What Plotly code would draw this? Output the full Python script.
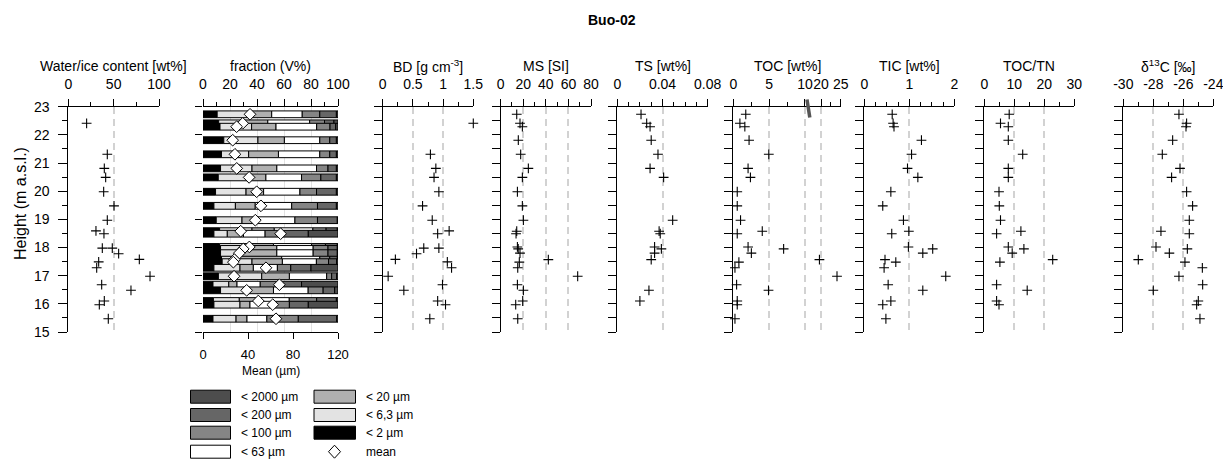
import plotly.graph_objects as go

# ---------------------------------------------------------------- data ----
# physical properties: water/ice content [wt%] and bulk density [g cm-3]
phys_height = [22.41, 21.31, 20.81, 20.49, 19.98, 19.48, 18.97, 18.59, 18.49,
               17.98, 17.98, 17.78, 17.58, 17.49, 17.28, 16.98, 16.68, 16.48,
               16.10, 15.97, 15.47]
water_content = [20.2, 43.0, 39.7, 41.2, 39.0, 50.4, 43.0, 30.5, 39.3, 37.5, 48.5,
                 55.5, 78.3, 33.5, 31.3, 90.1, 36.8, 69.1, 39.7, 34.2, 44.1]
bulk_density = [1.50, 0.79, 0.88, 0.85, 0.93, 0.66, 0.82, 1.10, 0.91, 0.68, 0.93,
                0.56, 0.21, 1.07, 1.14, 0.09, 0.99, 0.35, 0.91, 1.04, 0.78]

# grain size + geochemistry sample heights [m a.s.l.]
sample_height = [22.73, 22.41, 22.29, 21.81, 21.31, 20.81, 20.49, 19.98, 19.48,
                 18.97, 18.58, 18.49, 18.02, 17.95, 17.80, 17.57, 17.48, 17.28,
                 16.98, 16.68, 16.48, 16.10, 15.97, 15.47]

# grain-size classes [V%]
gs_lt2 = [10.5, 11.6, 12.6, 15.4, 13.7, 13.0, 11.3, 9.3, 8.1, 9.8, 12.3, 8.1,
          12.3, 13.0, 13.0, 13.7, 14.2, 8.1, 11.4, 7.4, 13.0, 7.7, 8.1, 7.4]
gs_lt6_3 = [24.5, 18.4, 23.4, 25.3, 20.1, 23.3, 22.5, 22.6, 15.9, 19.1, 24.0, 9.9,
            17.7, 22.8, 13.5, 10.3, 22.1, 19.3, 32.1, 11.7, 20.8, 19.2, 19.3, 17.1]
gs_lt20 = [15.9, 18.0, 18.1, 19.6, 22.1, 18.4, 12.8, 13.0, 14.7, 9.8, 16.5, 12.0,
           22.2, 18.9, 28.2, 34.3, 22.5, 9.9, 20.5, 6.1, 18.4, 14.1, 7.4, 8.1]
gs_lt63 = [22.6, 31.0, 30.1, 26.2, 30.6, 29.4, 26.4, 26.9, 27.0, 29.4, 28.6, 16.0,
           28.2, 26.9, 26.9, 28.2, 25.2, 17.8, 27.6, 17.2, 25.7, 22.9, 17.2, 14.7]
gs_lt100 = [13.0, 11.0, 9.9, 7.4, 7.4, 8.5, 14.3, 12.3, 19.1, 16.7, 9.8, 12.0,
            10.3, 11.0, 11.0, 7.4, 9.0, 9.9, 3.7, 12.3, 11.1, 20.3, 12.0, 23.3]
gs_lt200 = [12.3, 7.0, 4.2, 4.9, 4.9, 6.2, 11.5, 14.7, 14.0, 14.7, 8.3, 20.0,
            8.8, 6.9, 6.9, 5.6, 6.0, 15.0, 3.7, 18.3, 8.5, 14.6, 14.0, 28.4]
gs_lt2000 = [1.2, 3.0, 1.7, 1.2, 1.2, 1.2, 1.2, 1.2, 1.2, 0.5, 0.5, 22.0,
             0.5, 0.5, 0.5, 0.5, 1.0, 20.0, 1.0, 27.0, 2.5, 1.2, 22.0, 1.0]
gs_mean = [41.8, 35.3, 29.9, 26.4, 28.4, 30.0, 41.0, 47.7, 51.5, 46.5, 33.5, 69.0,
           41.2, 35.8, 32.3, 27.9, 27.0, 56.0, 27.6, 67.9, 38.8, 49.2, 62.0, 64.9]

# magnetic susceptibility [SI]
ms_values = [14.2, 17.1, 19.2, 15.6, 17.7, 24.5, 19.2, 14.8, 19.2, 20.1, 14.2, 13.6,
             14.8, 15.5, 17.1, 42.2, 16.5, 15.1, 68.2, 14.8, 20.1, 19.5, 13.3, 15.1]
# total sulphur [wt%]
ts_height = [22.73, 22.41, 22.29, 21.81, 21.31, 20.81, 20.49, 18.97, 18.58, 18.49,
             18.02, 17.95, 17.80, 17.57, 16.48, 16.10]
ts_values = [0.021, 0.026, 0.029, 0.030, 0.036, 0.029, 0.041, 0.049, 0.037, 0.038,
             0.033, 0.039, 0.033, 0.030, 0.028, 0.020]
# total organic carbon [wt%]
toc_values = [1.74, 0.92, 1.61, 2.20, 4.95, 2.06, 2.39, 0.55, 0.55, 1.01, 4.04, 0.55,
              2.06, 7.02, 2.52, 19.6, 0.78, 0.23, 24.06, 0.46, 4.91, 0.55, 0.55, 0.23]
# total inorganic carbon [wt%]
tic_values = [0.62, 0.64, 0.66, 1.27, 1.05, 0.96, 1.19, 0.59, 0.41, 0.87, 0.99, 0.61,
              0.98, 1.52, 1.30, 0.46, 0.70, 0.44, 1.81, 0.53, 1.30, 0.59, 0.41, 0.48]
# TOC/TN ratio
ctn_height = [22.73, 22.41, 22.29, 21.81, 21.31, 20.81, 20.49, 19.98, 19.48, 18.97,
              18.58, 18.49, 18.02, 17.95, 17.80, 17.57, 17.48, 16.98, 16.68, 16.48,
              16.10, 15.97]
ctn_values = [8.3, 5.4, 8.0, 8.0, 12.8, 8.0, 8.0, 4.9, 5.0, 5.4, 12.2, 4.1, 8.0,
              13.2, 9.3, 22.8, 5.2, 31.3, 4.1, 14.3, 4.1, 4.9]
# delta 13C of organic carbon [per mil]
d13c_values = [-26.29, -25.78, -25.82, -26.71, -27.40, -26.22, -26.78, -25.78, -25.38,
               -25.60, -27.49, -25.60, -27.82, -25.73, -26.93, -29.00, -25.89, -24.73,
               -26.29, -24.71, -28.00, -25.00, -25.11, -24.89]

gs_labels = ["< 2 µm", "< 6,3 µm", "< 20 µm", "< 63 µm", "< 100 µm", "< 200 µm", "< 2000 µm"]
gs_colors = ["#000000", "#e3e3e3", "#b0b0b0", "#ffffff", "#858585", "#666666", "#4d4d4d"]

# --------------------------------------------------------------- layout ----
W, H = 1223, 460
FONT = "Liberation Sans, Arial, sans-serif"


def fx(p):
    return p / W


def fy(p):
    return 1 - p / H


Y_TOP, Y_BOT = 106.7, 332.0
YDOM = [fy(Y_BOT), fy(Y_TOP)]
DASH_GRID = dict(showgrid=True, gridcolor="#d2d2d2", griddash="7px,5px", gridwidth=1.5)


def top_axis(x0, x1, rng, vals, labels, minor, anchor, grid=None):
    ax = dict(domain=[fx(x0), fx(x1)], range=rng, side="top", anchor=anchor,
              automargin=False, showline=True, linecolor="black", linewidth=1,
              ticks="outside", ticklen=7, tickwidth=1, tickcolor="black",
              tickmode="array", tickvals=vals, ticktext=labels, ticklabelstandoff=4,
              ticklabeloverflow="allow", tickangle=0,
              tickfont=dict(size=14), zeroline=False, fixedrange=True,
              minor=dict(tickmode="array", tickvals=minor, ticks="outside",
                         ticklen=4, tickcolor="black", showgrid=False))
    ax.update(grid if grid is not None else DASH_GRID)
    return ax


def height_axis(anchor, line=True, step=0.5, ticklen=8):
    n = int(round((23 - 15) / step))
    return dict(domain=YDOM, range=[15, 23], anchor=anchor, automargin=False, showline=line,
                linecolor="black", linewidth=1, ticks="outside", ticklen=ticklen,
                tickcolor="black", tickmode="array",
                tickvals=[15 + step * i for i in range(n + 1)],
                showticklabels=False, showgrid=False, zeroline=False, fixedrange=True)


fig = go.Figure()

cross = dict(symbol="cross-thin", size=7, color="black", line=dict(width=1.1, color="black"))


def add_points(x, y, xa, ya):
    fig.add_trace(go.Scatter(x=x, y=y, mode="markers", marker=cross, xaxis=xa, yaxis=ya,
                             cliponaxis=False, showlegend=False, hoverinfo="x+y"))


# water/ice content
add_points(water_content, phys_height, "x", "y")

# grain-size fractions: one stacked bar per sample
classes = [gs_lt2, gs_lt6_3, gs_lt20, gs_lt63, gs_lt100, gs_lt200, gs_lt2000]
for i, h in enumerate(sample_height):
    widths = [c[i] for c in classes]
    bases, acc = [], 0.0
    for w in widths:
        bases.append(acc)
        acc += w
    fig.add_trace(go.Bar(orientation="h", y=[h] * len(widths), x=widths, base=bases,
                         width=0.24, marker=dict(color=gs_colors, line=dict(color="black", width=1)),
                         xaxis="x2", yaxis="y2", showlegend=False, hoverinfo="skip"))
fig.add_trace(go.Scatter(x=gs_mean, y=sample_height, mode="markers", xaxis="x3", yaxis="y2",
                         marker=dict(symbol="diamond", size=9, color="white",
                                     line=dict(color="black", width=1)),
                         cliponaxis=False, showlegend=False))

add_points(bulk_density, phys_height, "x4", "y4")
add_points(ms_values, sample_height, "x5", "y5")
add_points(ts_values, ts_height, "x6", "y6")
toc_lo = [(v, h) for v, h in zip(toc_values, sample_height) if v <= 10]
toc_hi = [(v, h) for v, h in zip(toc_values, sample_height) if v > 10]
add_points([v for v, _ in toc_lo], [h for _, h in toc_lo], "x7", "y7")
add_points([v for v, _ in toc_hi], [h for _, h in toc_hi], "x8", "y7")
add_points(tic_values, sample_height, "x9", "y9")
add_points(ctn_values, ctn_height, "x10", "y10")
add_points(d13c_values, sample_height, "x11", "y11")

lay = dict(
    width=W, height=H, autosize=False, margin=dict(l=0, r=0, t=0, b=0, pad=0),
    paper_bgcolor="white", plot_bgcolor="white",
    font=dict(family=FONT, size=14, color="black"),
    barmode="overlay", showlegend=False,
)

lay["xaxis"] = top_axis(68.3, 159.0, [0, 100], [0, 50, 100], ["0", "50", "100"], [25, 75], "y")
lay["yaxis"] = dict(domain=YDOM, range=[15, 23], anchor="x", automargin=False, showline=True,
                    linecolor="black", ticks="outside", ticklen=9, tickcolor="black",
                    tickmode="array", tickvals=list(range(15, 24)), tickfont=dict(size=14),
                    ticklabelstandoff=6, showgrid=False, zeroline=False, fixedrange=True,
                    minor=dict(tickmode="array", tickvals=[15.5 + i for i in range(8)],
                               ticks="outside", ticklen=5, tickcolor="black", showgrid=False))

lay["xaxis2"] = top_axis(203.0, 338.0, [0, 100], [0, 20, 40, 60, 80, 100],
                         ["0", "20", "40", "60", "80", "100"], [10, 30, 50, 70, 90], "y2",
                         grid=dict(showgrid=True, gridcolor="#e2e2e2", gridwidth=1))
lay["yaxis2"] = height_axis("x2", line=False, step=1, ticklen=7)
lay["xaxis3"] = dict(overlaying="x2", side="bottom", anchor="y2", range=[0, 120],
                     automargin=False, showline=True, linecolor="black", ticks="outside",
                     ticklen=6, tickcolor="black", tickmode="array", tickvals=[0, 40, 80, 120],
                     tickfont=dict(size=13), ticklabelstandoff=4, tickangle=0, showgrid=False,
                     zeroline=False, fixedrange=True)

lay["xaxis4"] = top_axis(382.7, 473.3, [0, 1.5], [0, 0.5, 1, 1.5], ["0", "0.5", "1", "1.5"],
                         [0.25, 0.75, 1.25], "y4")
lay["yaxis4"] = height_axis("x4")
lay["xaxis5"] = top_axis(500.7, 591.0, [0, 80], [0, 20, 40, 60, 80],
                         ["0", "20", "40", "60", "80"], [10, 30, 50, 70], "y5")
lay["yaxis5"] = height_axis("x5")
lay["xaxis6"] = top_axis(617.3, 707.7, [0, 0.08], [0, 0.04, 0.08], ["0", "0.04", "0.08"],
                         [0.01, 0.02, 0.03, 0.05, 0.06, 0.07], "y6")
lay["yaxis6"] = height_axis("x6")
# TOC axis broken between 10 and 20 wt%
lay["xaxis7"] = top_axis(733.3, 808.0, [0, 10.42], [0, 5, 10], ["0", "5", "10"], [2.5, 7.5], "y7")
lay["xaxis8"] = top_axis(808.0, 840.7, [16.70, 25], [20, 25], ["20", "25"], [22.5], "y7")
lay["yaxis7"] = height_axis("x7")
lay["xaxis9"] = top_axis(864.3, 954.3, [0, 2], [0, 1, 2], ["0", "1", "2"],
                         [0.25, 0.5, 0.75, 1.25, 1.5, 1.75], "y9")
lay["yaxis9"] = height_axis("x9")
lay["xaxis10"] = top_axis(984.3, 1074.3, [0, 30], [0, 10, 20, 30], ["0", "10", "20", "30"],
                          [5, 15, 25], "y10")
lay["yaxis10"] = height_axis("x10")
lay["xaxis11"] = top_axis(1123.3, 1213.3, [-30, -24], [-30, -28, -26, -24],
                          ["-30", "-28", "-26", "-24"], [-29, -27, -25], "y11")
lay["yaxis11"] = height_axis("x11")

fig.update_layout(**lay)

# titles
ann = []


def text(x, y, s, size=14, anchor="center", **kw):
    ann.append(dict(x=fx(x), y=fy(y), xref="paper", yref="paper", text=s, showarrow=False,
                    xanchor=anchor, yanchor="middle", font=dict(family=FONT, size=size, color="black"),
                    **kw))


text(611.5, 20, "<b>Buo-02</b>", size=14)
TITLE_Y = 66
for cx, label in [(113.7, "Water/ice content [wt%]"), (270.5, "fraction (V%)"),
                  (428.0, "BD [g cm<sup>-3</sup>]"), (545.9, "MS [SI]"),
                  (662.5, "TS [wt%]"), (787.0, "TOC [wt%]"), (909.3, "TIC [wt%]"),
                  (1029.3, "TOC/TN"), (1168.3, "δ<sup>13</sup>C [‰]")]:
    text(cx, TITLE_Y, label)
text(20, 204, "Height (m a.s.l.)", size=16, textangle=-90)
text(270.5, 371, "Mean (µm)", size=12)

# grain-size key
shapes = []
key = [(190.5, 230.5, 396.7, 6), (190.5, 230.5, 415.0, 5), (190.5, 230.5, 432.7, 4),
       (190.5, 230.5, 451.7, 3), (314.0, 355.5, 396.7, 2), (314.0, 355.5, 415.0, 1),
       (314.0, 355.5, 432.7, 0)]
for x0, x1, yc, k in key:
    shapes.append(dict(type="rect", xref="paper", yref="paper", x0=fx(x0), x1=fx(x1),
                       y0=fy(yc + 6.5), y1=fy(yc - 6.5), fillcolor=gs_colors[k],
                       line=dict(color="black", width=1)))
    text(x1 + 8, yc, gs_labels[k], size=12, anchor="left")
dx, dy, cx, cy = 6.0, 6.5, 334.5, 451.7
shapes.append(dict(type="path", xref="paper", yref="paper",
                   path=f"M {fx(cx)},{fy(cy - dy)} L {fx(cx + dx)},{fy(cy)} "
                        f"L {fx(cx)},{fy(cy + dy)} L {fx(cx - dx)},{fy(cy)} Z",
                   fillcolor="white", line=dict(color="black", width=1)))
text(363.5, 451.7, "mean", size=12, anchor="left")

# axis break marker on the TOC scale
shapes.append(dict(type="line", xref="paper", yref="paper", x0=fx(807.0), y0=fy(99.5),
                   x1=fx(809.8), y1=fy(117.5), line=dict(color="#555555", width=3.5)))

fig.update_layout(annotations=ann, shapes=shapes)
fig.write_html("out.html")
